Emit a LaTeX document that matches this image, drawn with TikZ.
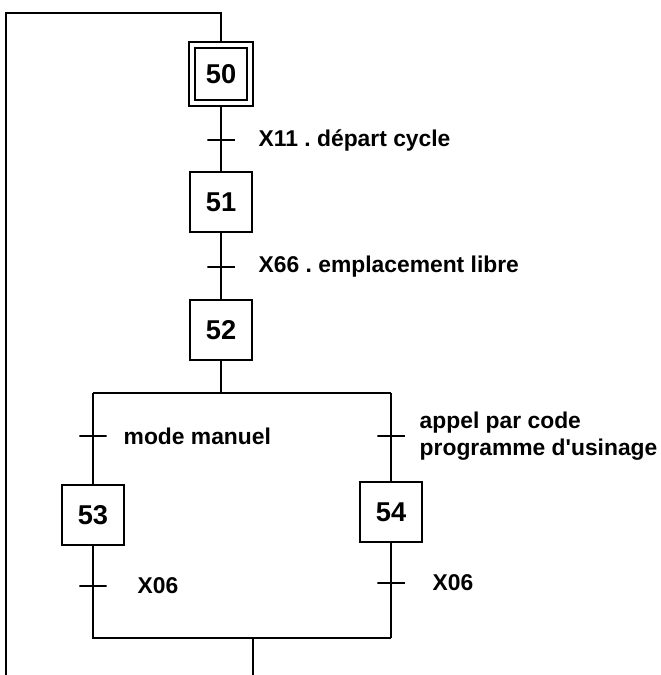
\documentclass[tikz,border=0pt]{standalone}
\usepackage{fontspec}
\setmainfont{Liberation Sans}
\usetikzlibrary{positioning}
\frenchspacing

\tikzset{
  etape/.style={draw, minimum width=1.24cm, minimum height=1.2cm, inner sep=0pt,
                font=\bfseries\fontsize{15.5}{16}\selectfont},
  etapeinit/.style={etape, double, double distance=0.09cm, minimum width=1.17cm,
                minimum height=1.17cm, outer sep=0.085cm},
  trans/.style={draw, minimum width=0.55cm, minimum height=0pt, inner sep=0pt, outer sep=0pt},
  recept/.style={inner sep=0pt, align=left, font=\bfseries\fontsize{13}{15.5}\selectfont}
}

\begin{document}
\begin{tikzpicture}[x=0.02cm, y=-0.02cm, line width=1.1pt]
        \useasboundingbox (0,0) rectangle (661,675);
        % sequence principale
        \node[etapeinit] (e50) at (221,74) {50};
        \node[trans] (t1) at (221,140) {};
        \node[etape] (e51) at (221,202) {51};
        \node[trans] (t2) at (221,267) {};
        \node[etape] (e52) at (221,330) {52};
        \node[recept, right=0.46cm of t1] (r1) {X11 . départ cycle};
        \node[recept, right=0.46cm of t2] (r2) {X66 . emplacement libre};
        \draw (e50) -- (t1) -- (e51) -- (t2) -- (e52);
        % divergence en OU
        \coordinate (dg) at (93,393);
        \coordinate (dd) at (391,393);
        \draw (dg) -- (dd);
        \draw (e52) -- (e52 |- dg);
        % branche gauche
        \node[trans] (t3) at (93,436) {};
        \node[etape] (e53) at (93,515) {53};
        \node[trans] (t5) at (93,586) {};
        \node[recept, right=0.32cm of t3] (r3) {mode manuel};
        \node[recept, right=0.6cm of t5] (r5) {X06};
        % branche droite
        \node[trans] (t4) at (391,436) {};
        \node[etape] (e54) at (391,512) {54};
        \node[trans] (t6) at (391,583) {};
        \node[recept, right=0.28cm of t4] (r4) {appel par code\\programme d\textquotesingle usinage};
        \node[recept, right=0.54cm of t6] (r6) {X06};
        % convergence en OU
        \coordinate (cg) at (93,638);
        \coordinate (cd) at (391,638);
        \draw (dg) -- (t3) -- (e53) -- (t5) -- (cg) -- (cd);
        \draw (dd) -- (t4) -- (e54) -- (t6) -- (cd);
        \coordinate (sortie) at (253,675);
        \draw (sortie |- cg) -- (sortie);
        % retour vers l'etape initiale
        \coordinate (retour) at (6,675);
        \coordinate (haut) at (221,13);
        \draw (retour) |- (haut) -- (e50);
      \end{tikzpicture}
\end{document}
